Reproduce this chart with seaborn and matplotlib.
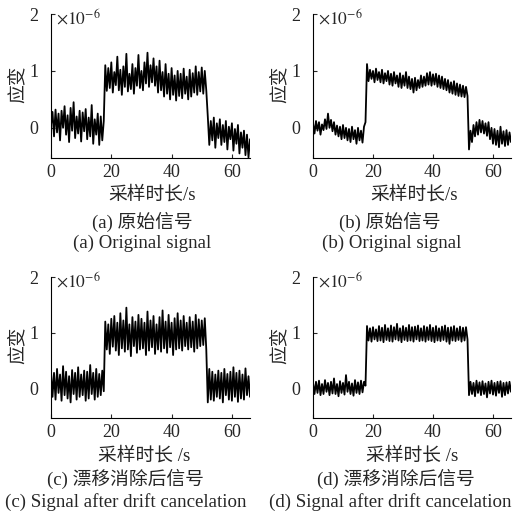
import numpy as np
import matplotlib
matplotlib.use("Agg")
import matplotlib.pyplot as plt
import seaborn as sns

# ---------- DATA (strain, x1e-6) ----------
# sample grid: 0 .. 66 s, every 0.5 s
time_s = np.arange(0, 66.5, 0.5)

# (a) original signal
sig_a = [0.05, 0.28, -0.15, 0.32, -0.08, 0.25, -0.22, 0.30, 0.00, 0.38,
         -0.12, 0.22, -0.25, 0.35, -0.05, 0.45, -0.18, 0.20, -0.10, 0.30,
         -0.24, 0.27, -0.06, 0.33, -0.20, 0.18, -0.15, 0.40, -0.28, 0.15,
         -0.12, 0.25, -0.30, 0.20, -0.22, 0.12,
         1.10, 0.65, 1.05, 0.70, 1.15, 0.62, 0.98, 0.75,
         1.25, 0.66, 1.02, 0.58, 1.08, 0.72, 1.30, 0.64,
         0.95, 0.68, 1.12, 0.60, 1.05, 0.74, 1.28, 0.70,
         1.00, 0.66, 1.15, 0.78, 1.32, 0.72, 1.10, 0.80,
         1.22, 0.74, 1.08, 0.62, 1.18, 0.66, 0.98, 0.55,
         1.12, 0.60, 0.95, 0.50, 1.05, 0.58, 0.92, 0.48,
         1.00, 0.56, 0.95, 0.52, 1.04, 0.60, 0.90, 0.50,
         1.02, 0.55, 0.96, 0.62, 1.08, 0.58, 0.98, 0.64,
         1.06, 0.60, 1.00, 0.66,
         0.20, -0.30, 0.12, -0.22, 0.18, -0.35, 0.08, -0.18,
         0.15, -0.30, 0.05, -0.25, 0.12, -0.38, 0.02, -0.20,
         0.08, -0.40, -0.02, -0.28, 0.05, -0.45, -0.08, -0.35,
         -0.05, -0.48, -0.12, -0.52, -0.20]

# (b) original signal
sig_b = [0.08, -0.10, 0.12, -0.05, 0.10, -0.12, 0.06, -0.04,
         0.15, -0.02, 0.25, 0.00, 0.14, -0.06, 0.10, -0.12,
         0.04, -0.15, 0.02, -0.20, 0.05, -0.18, 0.00, -0.22,
         -0.02, -0.25, 0.02, -0.20, -0.04, -0.28, 0.00, -0.22,
         -0.05, -0.26, 0.02, 0.10,
         1.12, 0.82, 1.02, 0.86, 1.00, 0.80, 1.04, 0.84,
         0.98, 0.80, 1.02, 0.78, 0.96, 0.82, 1.00, 0.76,
         0.95, 0.74, 0.98, 0.78, 0.92, 0.72, 0.96, 0.70,
         0.92, 0.74, 0.98, 0.70, 0.90, 0.68, 0.86, 0.62,
         0.88, 0.66, 0.84, 0.70, 0.92, 0.72, 0.90, 0.74,
         0.96, 0.76, 0.98, 0.74, 0.94, 0.76, 0.95, 0.72,
         0.92, 0.70, 0.90, 0.68, 0.86, 0.66, 0.84, 0.62,
         0.80, 0.60, 0.82, 0.58, 0.78, 0.56, 0.76, 0.55,
         0.74, 0.54, 0.72, 0.56,
         -0.38, -0.05, -0.25, 0.05, -0.15, 0.10, -0.12, 0.14,
         -0.08, 0.12, -0.10, 0.08, -0.14, 0.10, -0.20, 0.00,
         -0.28, -0.02, -0.30, -0.05, -0.34, 0.02, -0.28, -0.06,
         -0.32, -0.04, -0.30, -0.08, -0.25]

# (c) signal after drift cancelation
sig_c = [0.30, -0.15, 0.28, -0.20, 0.35, -0.08, 0.25, -0.22,
         0.40, -0.12, 0.30, -0.18, 0.22, -0.25, 0.33, -0.10,
         0.28, -0.20, 0.38, -0.15, 0.25, -0.12, 0.32, -0.22,
         0.30, -0.18, 0.42, -0.10, 0.28, -0.20, 0.35, -0.15,
         0.26, -0.12, 0.32, -0.05,
         1.20, 0.70, 1.15, 0.62, 1.25, 0.75, 1.30, 0.68,
         1.18, 0.60, 1.35, 0.72, 1.22, 0.66, 1.45, 0.70,
         1.15, 0.58, 1.28, 0.76, 1.20, 0.64, 1.32, 0.70,
         1.25, 0.72, 1.18, 0.60, 1.38, 0.68, 1.22, 0.74,
         1.30, 0.62, 1.15, 0.70, 1.28, 0.66, 1.40, 0.72,
         1.20, 0.64, 1.32, 0.74, 1.18, 0.60, 1.26, 0.70,
         1.35, 0.72, 1.22, 0.68, 1.30, 0.76, 1.18, 0.70,
         1.28, 0.74, 1.20, 0.66, 1.32, 0.72, 1.24, 0.76,
         1.22, 0.78, 1.26, 0.70,
         -0.25, 0.35, -0.20, 0.30, -0.22, 0.25, -0.15, 0.32,
         -0.18, 0.28, -0.25, 0.35, -0.12, 0.26, -0.20, 0.30,
         -0.22, 0.38, -0.15, 0.28, -0.24, 0.32, -0.18, 0.25,
         -0.20, 0.36, -0.12, 0.22, -0.15]

# (d) signal after drift cancelation
sig_d = [0.10, -0.10, 0.12, -0.08, 0.14, -0.12, 0.08, -0.10,
         0.15, -0.06, 0.10, -0.12, 0.12, -0.09, 0.18, -0.10,
         0.08, -0.14, 0.13, -0.08, 0.10, -0.11, 0.24, -0.06,
         0.12, -0.10, 0.09, -0.13, 0.15, -0.08, 0.11, -0.10,
         0.14, -0.07, 0.12, 0.05,
         1.12, 0.86, 1.08, 0.84, 1.10, 0.88, 1.06, 0.85,
         1.12, 0.86, 1.09, 0.83, 1.14, 0.87, 1.08, 0.85,
         1.13, 0.84, 1.10, 0.88, 1.16, 0.86, 1.08, 0.83,
         1.12, 0.87, 1.09, 0.85, 1.14, 0.86, 1.10, 0.84,
         1.11, 0.88, 1.13, 0.85, 1.08, 0.86, 1.12, 0.84,
         1.10, 0.87, 1.14, 0.85, 1.09, 0.83, 1.12, 0.86,
         1.08, 0.85, 1.11, 0.87, 1.13, 0.84, 1.09, 0.80,
         1.10, 0.86, 1.12, 0.85, 1.08, 0.87, 1.11, 0.84,
         1.09, 0.86, 1.10, 0.88,
         -0.12, 0.12, -0.10, 0.10, -0.14, 0.14, -0.08, 0.11,
         -0.12, 0.13, -0.10, 0.09, -0.16, 0.12, -0.09, 0.14,
         -0.11, 0.10, -0.13, 0.12, -0.08, 0.13, -0.15, 0.10,
         -0.12, 0.11, -0.09, 0.12, -0.06]

x_ticks = [0, 20, 40, 60]
y_ticks = [0, 1, 2]
y_label = "应变"
x_labels = ["采样时长/s", "采样时长/s", "采样时长 /s", "采样时长 /s"]
captions_cn = ["(a) 原始信号", "(b) 原始信号", "(c) 漂移消除后信号", "(d) 漂移消除后信号"]
captions_en = ["(a) Original signal", "(b) Original signal",
               "(c) Signal after drift cancelation", "(d) Signal after drift cancelation"]

# ---------- STYLE ----------
sns.set_style("ticks")
plt.rcParams["font.family"] = ["Liberation Serif", "Noto Sans CJK SC"]
plt.rcParams["mathtext.fontset"] = "stix"
FS_TICK = 13
FS_CN = 13.5
FS_EN = 13.6

W = H = 514
fig = plt.figure(figsize=(W / 100, H / 100), dpi=100)


def px(x, y):
    return x / W, 1 - y / H


# axes boxes in pixels: left, top, right, bottom
boxes = [(51, 14, 250, 158), (313, 14, 511, 158),
         (51, 277, 250, 418), (313, 277, 511, 418)]
xlab_pos = [(152, 195), (414, 195), (144, 456), (412, 456)]
cn_pos = [(142, 222), (390, 222), (125, 479), (396, 479)]
en_pos = [(142, 243), (392, 243), (126, 502), (390, 502)]
signals = [sig_a, sig_b, sig_c, sig_d]

for k, (l, t, r, b) in enumerate(boxes):
    ax = fig.add_axes([l / W, 1 - b / H, (r - l) / W, (b - t) / H])
    sns.lineplot(x=time_s, y=signals[k], ax=ax, color="black", linewidth=1.3)
    ax.set_xlim(0, 66)
    ax.set_ylim(-0.53, 2.0)
    ax.set_xticks(x_ticks)
    ax.set_yticks(y_ticks)
    ax.tick_params(direction="in", length=3, width=0.8, labelsize=FS_TICK)
    ax.tick_params(axis="y", pad=9)
    ax.tick_params(axis="x", pad=4)
    sns.despine(ax=ax)
    for s in ["left", "bottom"]:
        ax.spines[s].set_linewidth(0.8)
        ax.spines[s].set_color("black")
    ax.set_xlabel("")
    ax.set_ylabel(y_label, fontsize=FS_CN)
    ax.yaxis.set_label_coords(-24 / (r - l), 0.5 + 2 / (b - t))
    fig.text(*px(l + 5, t + 4), r"$\times10^{-6}$", fontsize=FS_TICK - 0.5, ha="left", va="center")
    fig.text(*px(*xlab_pos[k]), x_labels[k], fontsize=FS_CN, ha="center", va="center")
    fig.text(*px(*cn_pos[k]), captions_cn[k], fontsize=FS_CN, ha="center", va="center")
    fig.text(*px(*en_pos[k]), captions_en[k], fontsize=FS_EN, ha="center", va="center")

fig.savefig("out.png", dpi=100)
